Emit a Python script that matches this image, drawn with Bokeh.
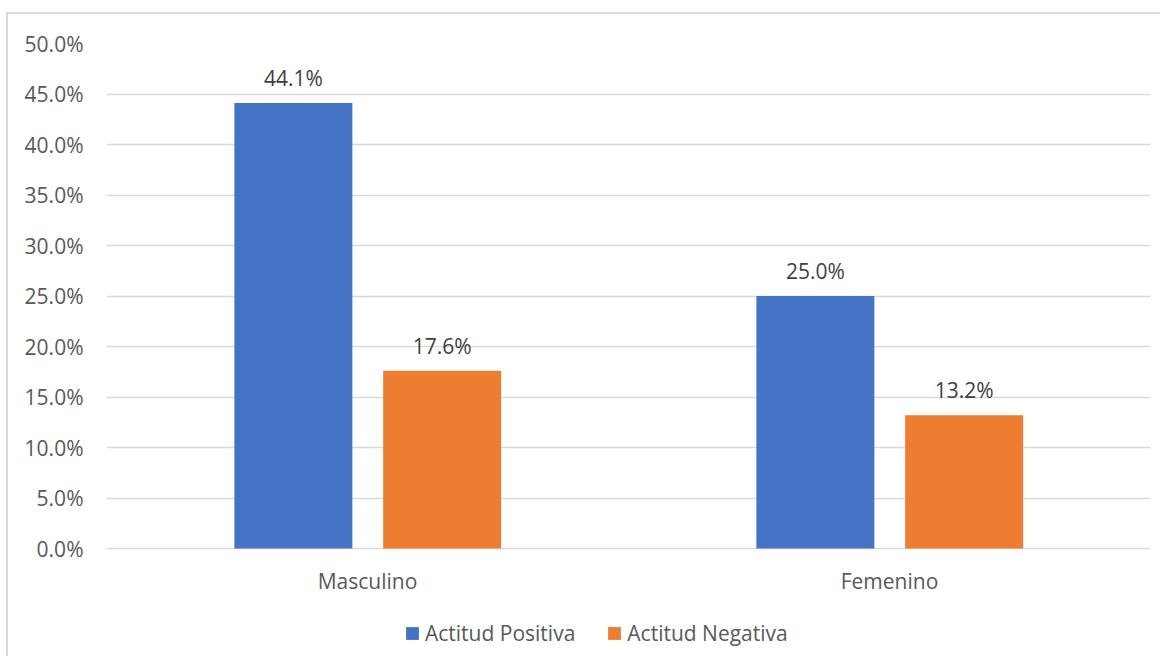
from bokeh.plotting import figure
from bokeh.models import (ColumnDataSource, LabelSet, Legend, LegendItem,
                          NumeralTickFormatter, FixedTicker, Range1d)
from bokeh.core.properties import value
from bokeh.transform import dodge
from bokeh.embed import file_html
from bokeh.resources import INLINE

categories = ["Masculino", "Femenino"]
series_names = ["Actitud Positiva", "Actitud Negativa"]
positiva = [0.441, 0.250]
negativa = [0.176, 0.132]
y_ticks = [0.0, 0.05, 0.10, 0.15, 0.20, 0.25, 0.30, 0.35, 0.40, 0.45, 0.50]

FONT = "Open Sans"
FS = "21px"
BLUE = "#4472C4"
ORANGE = "#ED7D31"
BORDER = "#D9D9D9"

W, H = 1160, 656
FRAME_TOP, ZERO_Y = 43, 548
Y_MAX = 0.5
y_min = -(H - ZERO_Y) / (ZERO_Y - FRAME_TOP) * Y_MAX  # room below zero for labels + legend

src = ColumnDataSource(dict(
    cat=categories,
    pos=positiva,
    neg=negativa,
    pos_lbl=[f"{v*100:.1f}%" for v in positiva],
    neg_lbl=[f"{v*100:.1f}%" for v in negativa],
))

p = figure(x_range=categories, y_range=Range1d(y_min, Y_MAX),
           width=W, height=H, output_backend="svg", toolbar_location=None,
           min_border_left=106, min_border_right=10, min_border_top=FRAME_TOP,
           min_border_bottom=0)
p.x_range.range_padding = 0
p.background_fill_color = None
p.border_fill_color = None
p.outline_line_color = None
p.styles = {
    "background-color": "white",
    "background-image": f"linear-gradient({BORDER},{BORDER}), linear-gradient({BORDER},{BORDER})",
    "background-size": "2px 100%, 100% 2px",
    "background-position": "6px 12px, 6px 12px",
    "background-repeat": "no-repeat, no-repeat",
}

bw = 0.226
r1 = p.vbar(x=dodge("cat", -0.142, range=p.x_range), top="pos", width=bw, source=src,
            fill_color=BLUE, line_color=None)
r2 = p.vbar(x=dodge("cat", 0.143, range=p.x_range), top="neg", width=bw, source=src,
            fill_color=ORANGE, line_color=None)

for xo, col in [(-0.142, "pos"), (0.143, "neg")]:
    ls = LabelSet(x=dodge("cat", xo, range=p.x_range), y=col, text=col + "_lbl", source=src,
                  text_align="center", text_baseline="bottom", y_offset=11,
                  text_font=value(FONT), text_font_size=FS, text_color="#404040")
    p.add_layout(ls)

# axes
p.yaxis.ticker = FixedTicker(ticks=y_ticks)
p.yaxis.formatter = NumeralTickFormatter(format="0.0%")
p.yaxis.axis_line_color = None
p.yaxis.major_tick_line_color = None
p.yaxis.minor_tick_line_color = None
p.yaxis.major_tick_out = 0
p.yaxis.major_label_standoff = 23
p.yaxis.major_label_text_font = FONT
p.yaxis.major_label_text_font_size = FS
p.yaxis.major_label_text_color = "#595959"

p.xaxis.fixed_location = 0
p.xaxis.axis_line_color = None
p.xaxis.major_tick_line_color = None
p.xaxis.major_tick_out = 0
p.xaxis.major_label_standoff = 18
p.xaxis.major_label_text_font = FONT
p.xaxis.major_label_text_font_size = FS
p.xaxis.major_label_text_color = "#595959"

p.xgrid.grid_line_color = None
p.ygrid.grid_line_color = BORDER
p.ygrid.grid_line_width = 1.5

legend = Legend(items=[LegendItem(label=series_names[0], renderers=[r1]),
                       LegendItem(label=series_names[1], renderers=[r2])],
                orientation="horizontal", location=(298, 9))
legend.label_text_font = FONT
legend.label_text_font_size = FS
legend.label_text_color = "#595959"
legend.glyph_width = 16
legend.glyph_height = 16
legend.label_standoff = 5
legend.spacing = 31
legend.padding = 0
legend.margin = 0
legend.border_line_color = None
legend.background_fill_alpha = 0
p.add_layout(legend, "center")

open("out.html", "w").write(file_html(p, INLINE))
